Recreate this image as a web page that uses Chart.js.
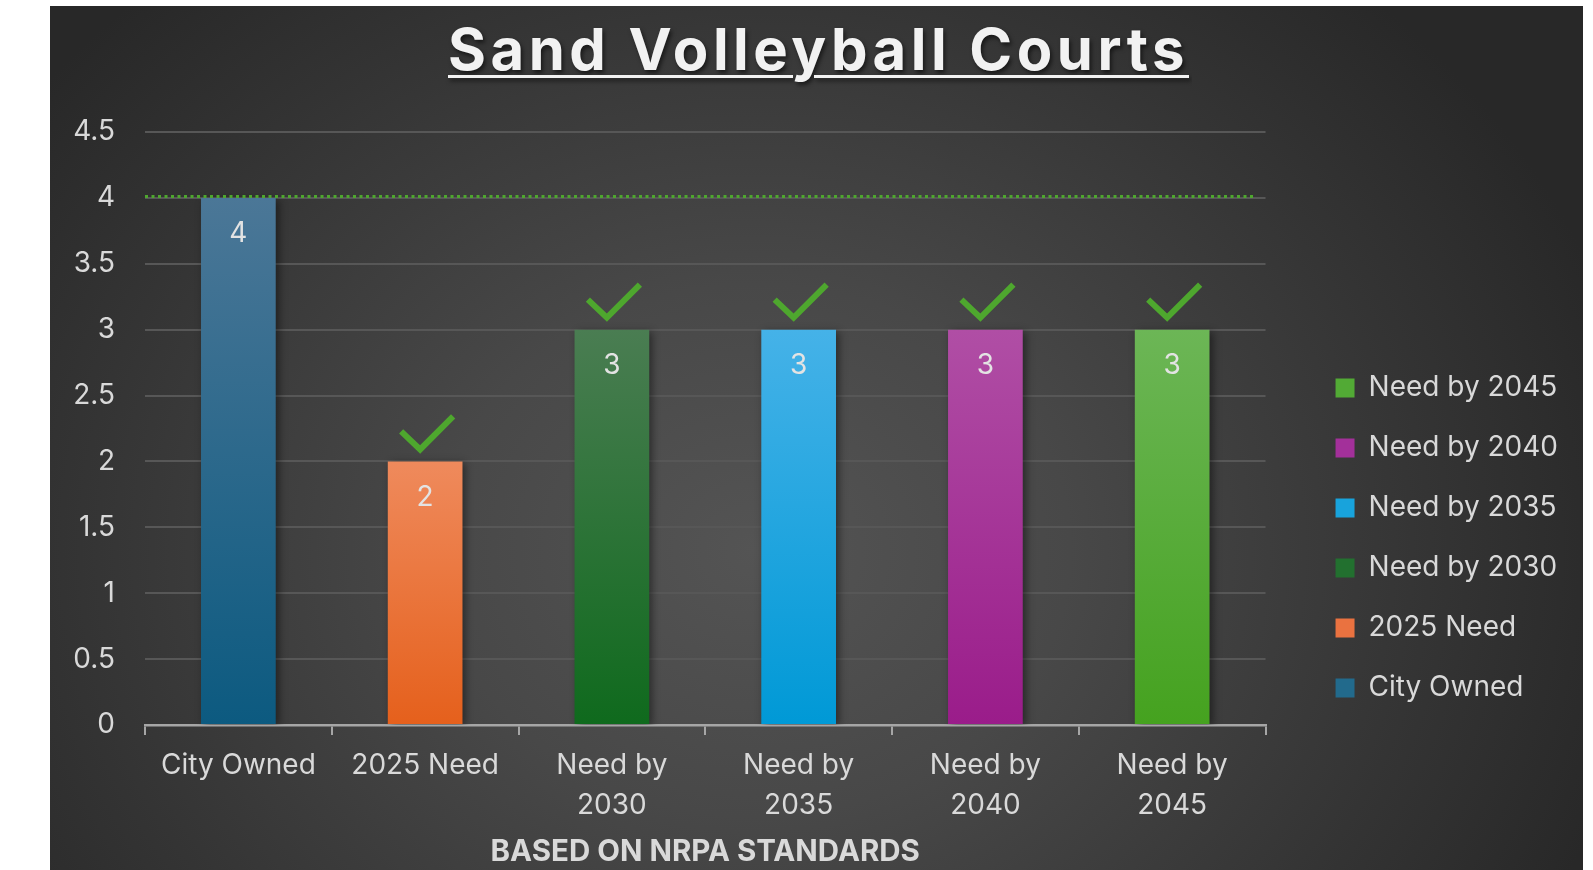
<!DOCTYPE html>
<html>
<head>
<meta charset="utf-8">
<script src="https://cdn.jsdelivr.net/npm/chart.js@4"></script>
<style>
  html, body { margin: 0; padding: 0; background: #fff; }
  #wrap {
    position: absolute; left: 50px; top: 6px; width: 1533px; height: 864px;
    background: radial-gradient(ellipse 900px 760px at 46% 63%, #545454 0%, #484848 35%, #343434 75%, #282828 100%);
    overflow: hidden;
  }
  #title {
    position: absolute; left: 0; top: 14px; width: 100%; text-align: center;
    transform: translateX(2px);
    font-family: Inter, sans-serif; font-weight: 700; font-size: 58px; line-height: 1;
    letter-spacing: 4.5px; color: #f2f2f2;
    text-decoration: underline; text-decoration-thickness: 3px; text-underline-offset: 5px;
    text-shadow: 2px 3px 4px rgba(0, 0, 0, 0.55);
  }
  canvas { position: absolute; left: 0; top: 0; }
</style>
</head>
<body>
<div id="wrap">
  <canvas id="chart" width="1533" height="864"></canvas>
  <div id="title">Sand Volleyball Courts</div>
</div>
<script>
const categories = ['City Owned', '2025 Need', 'Need by 2030', 'Need by 2035', 'Need by 2040', 'Need by 2045'];
const courts = [4, 2, 3, 3, 3, 3];
const standardMet = [false, true, true, true, true, true];
const yTickValues = [0, 0.5, 1, 1.5, 2, 2.5, 3, 3.5, 4, 4.5];
const ownedLevel = 4;

const barTop = ['#4b7797', '#ef8a5c', '#4a7d52', '#45b2e8', '#b04ea5', '#6cb656'];
const barBottom = ['#0c5a80', '#e5601c', '#0f6a1d', '#0099d6', '#9a1c8a', '#45a21f'];
const swatch = ['#226a8c', '#ea7240', '#22702f', '#18a3dc', '#a3309a', '#52aa35'];

const textColor = '#d9d9d9';
Chart.defaults.font.family = 'Inter';

function barFill(context) {
    const chart = context.chart;
    const i = context.dataIndex;
    if (!chart.chartArea || i === undefined) return swatch[0];
    const y = chart.scales.y;
    const g = chart.ctx.createLinearGradient(0, y.getPixelForValue(courts[i]), 0, y.getPixelForValue(0));
    g.addColorStop(0, barTop[i]);
    g.addColorStop(1, barBottom[i]);
    return g;
}

// soft drop shadow under the bars, like the office chart
const barShadow = {
    id: 'barShadow',
    beforeDatasetsDraw(chart) {
        const ctx = chart.ctx;
        ctx.save();
        ctx.shadowColor = 'rgba(0,0,0,0.45)';
        ctx.shadowBlur = 8;
        ctx.shadowOffsetX = 3;
        ctx.shadowOffsetY = 2;
    },
    afterDatasetsDraw(chart) {
        chart.ctx.restore();
    }
};

// dotted "city owned" level, value labels and check marks
const courtMarks = {
    id: 'courtMarks',
    afterDatasetsDraw(chart) {
        const {ctx, chartArea, scales: {y}} = chart;
        const ly = Math.round(y.getPixelForValue(ownedLevel)) - 1.5;
        ctx.save();
        ctx.strokeStyle = '#4ea72e';
        ctx.lineWidth = 3;
        ctx.setLineDash([3, 3.5]);
        ctx.beginPath();
        ctx.moveTo(chartArea.left, ly);
        ctx.lineTo(chartArea.right - 10, ly);
        ctx.stroke();
        ctx.setLineDash([]);

        const bars = chart.getDatasetMeta(0).data;
        ctx.font = '28px Inter';
        ctx.textAlign = 'center';
        ctx.textBaseline = 'middle';
        bars.forEach((bar, i) => {
            ctx.fillStyle = '#e3e3e3';
            ctx.fillText(String(courts[i]), bar.x, bar.y + 36);
            if (standardMet[i]) {
                ctx.strokeStyle = '#4ea72e';
                ctx.lineWidth = 6;
                ctx.beginPath();
                ctx.moveTo(bar.x - 24, bar.y - 30);
                ctx.lineTo(bar.x - 5, bar.y - 12);
                ctx.lineTo(bar.x + 28, bar.y - 45);
                ctx.stroke();
            }
        });
        ctx.restore();
    }
};

new Chart(document.getElementById('chart'), {
    type: 'bar',
    data: {
        labels: categories,
        datasets: [{
            data: courts,
            backgroundColor: barFill,
            borderWidth: 0,
            barPercentage: 0.4,
            categoryPercentage: 1
        }]
    },
    options: {
        responsive: false,
        animation: false,
        layout: { padding: { top: 126, right: 15, left: 0, bottom: 0 } },
        scales: {
            x: {
                grid: { drawOnChartArea: false, drawTicks: true, tickLength: 10, color: '#a6a6a6', lineWidth: 2 },
                border: { color: '#a6a6a6', width: 2.5 },
                ticks: {
                    color: textColor,
                    font: { size: 28, lineHeight: 1.43 },
                    padding: 11,
                    maxRotation: 0,
                    autoSkip: false,
                    callback: (v, i) => categories[i].startsWith('Need by') ? ['Need by', categories[i].slice(8)] : categories[i]
                },
                title: {
                    display: true,
                    text: 'BASED ON NRPA STANDARDS',
                    color: textColor,
                    font: { size: 29.5, weight: 'bold', lineHeight: 1.2 },
                    padding: { top: 0, bottom: 0 }
                },
                afterFit(s) { s.height = 145; }
            },
            y: {
                min: 0,
                max: 4.5,
                grid: { color: '#575757', lineWidth: 2, drawTicks: false },
                border: { display: false },
                ticks: { color: textColor, font: { size: 28 }, padding: 30, callback: v => String(v) },
                afterBuildTicks(s) { s.ticks = yTickValues.map(v => ({ value: v })); },
                afterFit(s) { s.width = 95; }
            },
            // empty space between the plot and the legend
            gap: {
                type: 'linear',
                position: 'right',
                display: false,
                afterFit(s) { s.width = 38; }
            }
        },
        plugins: {
            legend: {
                position: 'right',
                align: 'start',
                labels: {
                    color: textColor,
                    font: { size: 28 },
                    boxWidth: 19,
                    boxHeight: 19,
                    padding: 32,
                    generateLabels: () => categories.map((c, i) => ({
                        text: c, fillStyle: swatch[i], strokeStyle: swatch[i], lineWidth: 0, fontColor: textColor, index: i
                    })).reverse()
                },
                title: { display: true, text: ' ', padding: { top: 200, bottom: 0 }, font: { size: 10, lineHeight: 1 } }
            },
            tooltip: { enabled: false }
        }
    },
    plugins: [barShadow, courtMarks]
});
</script>
</body>
</html>
